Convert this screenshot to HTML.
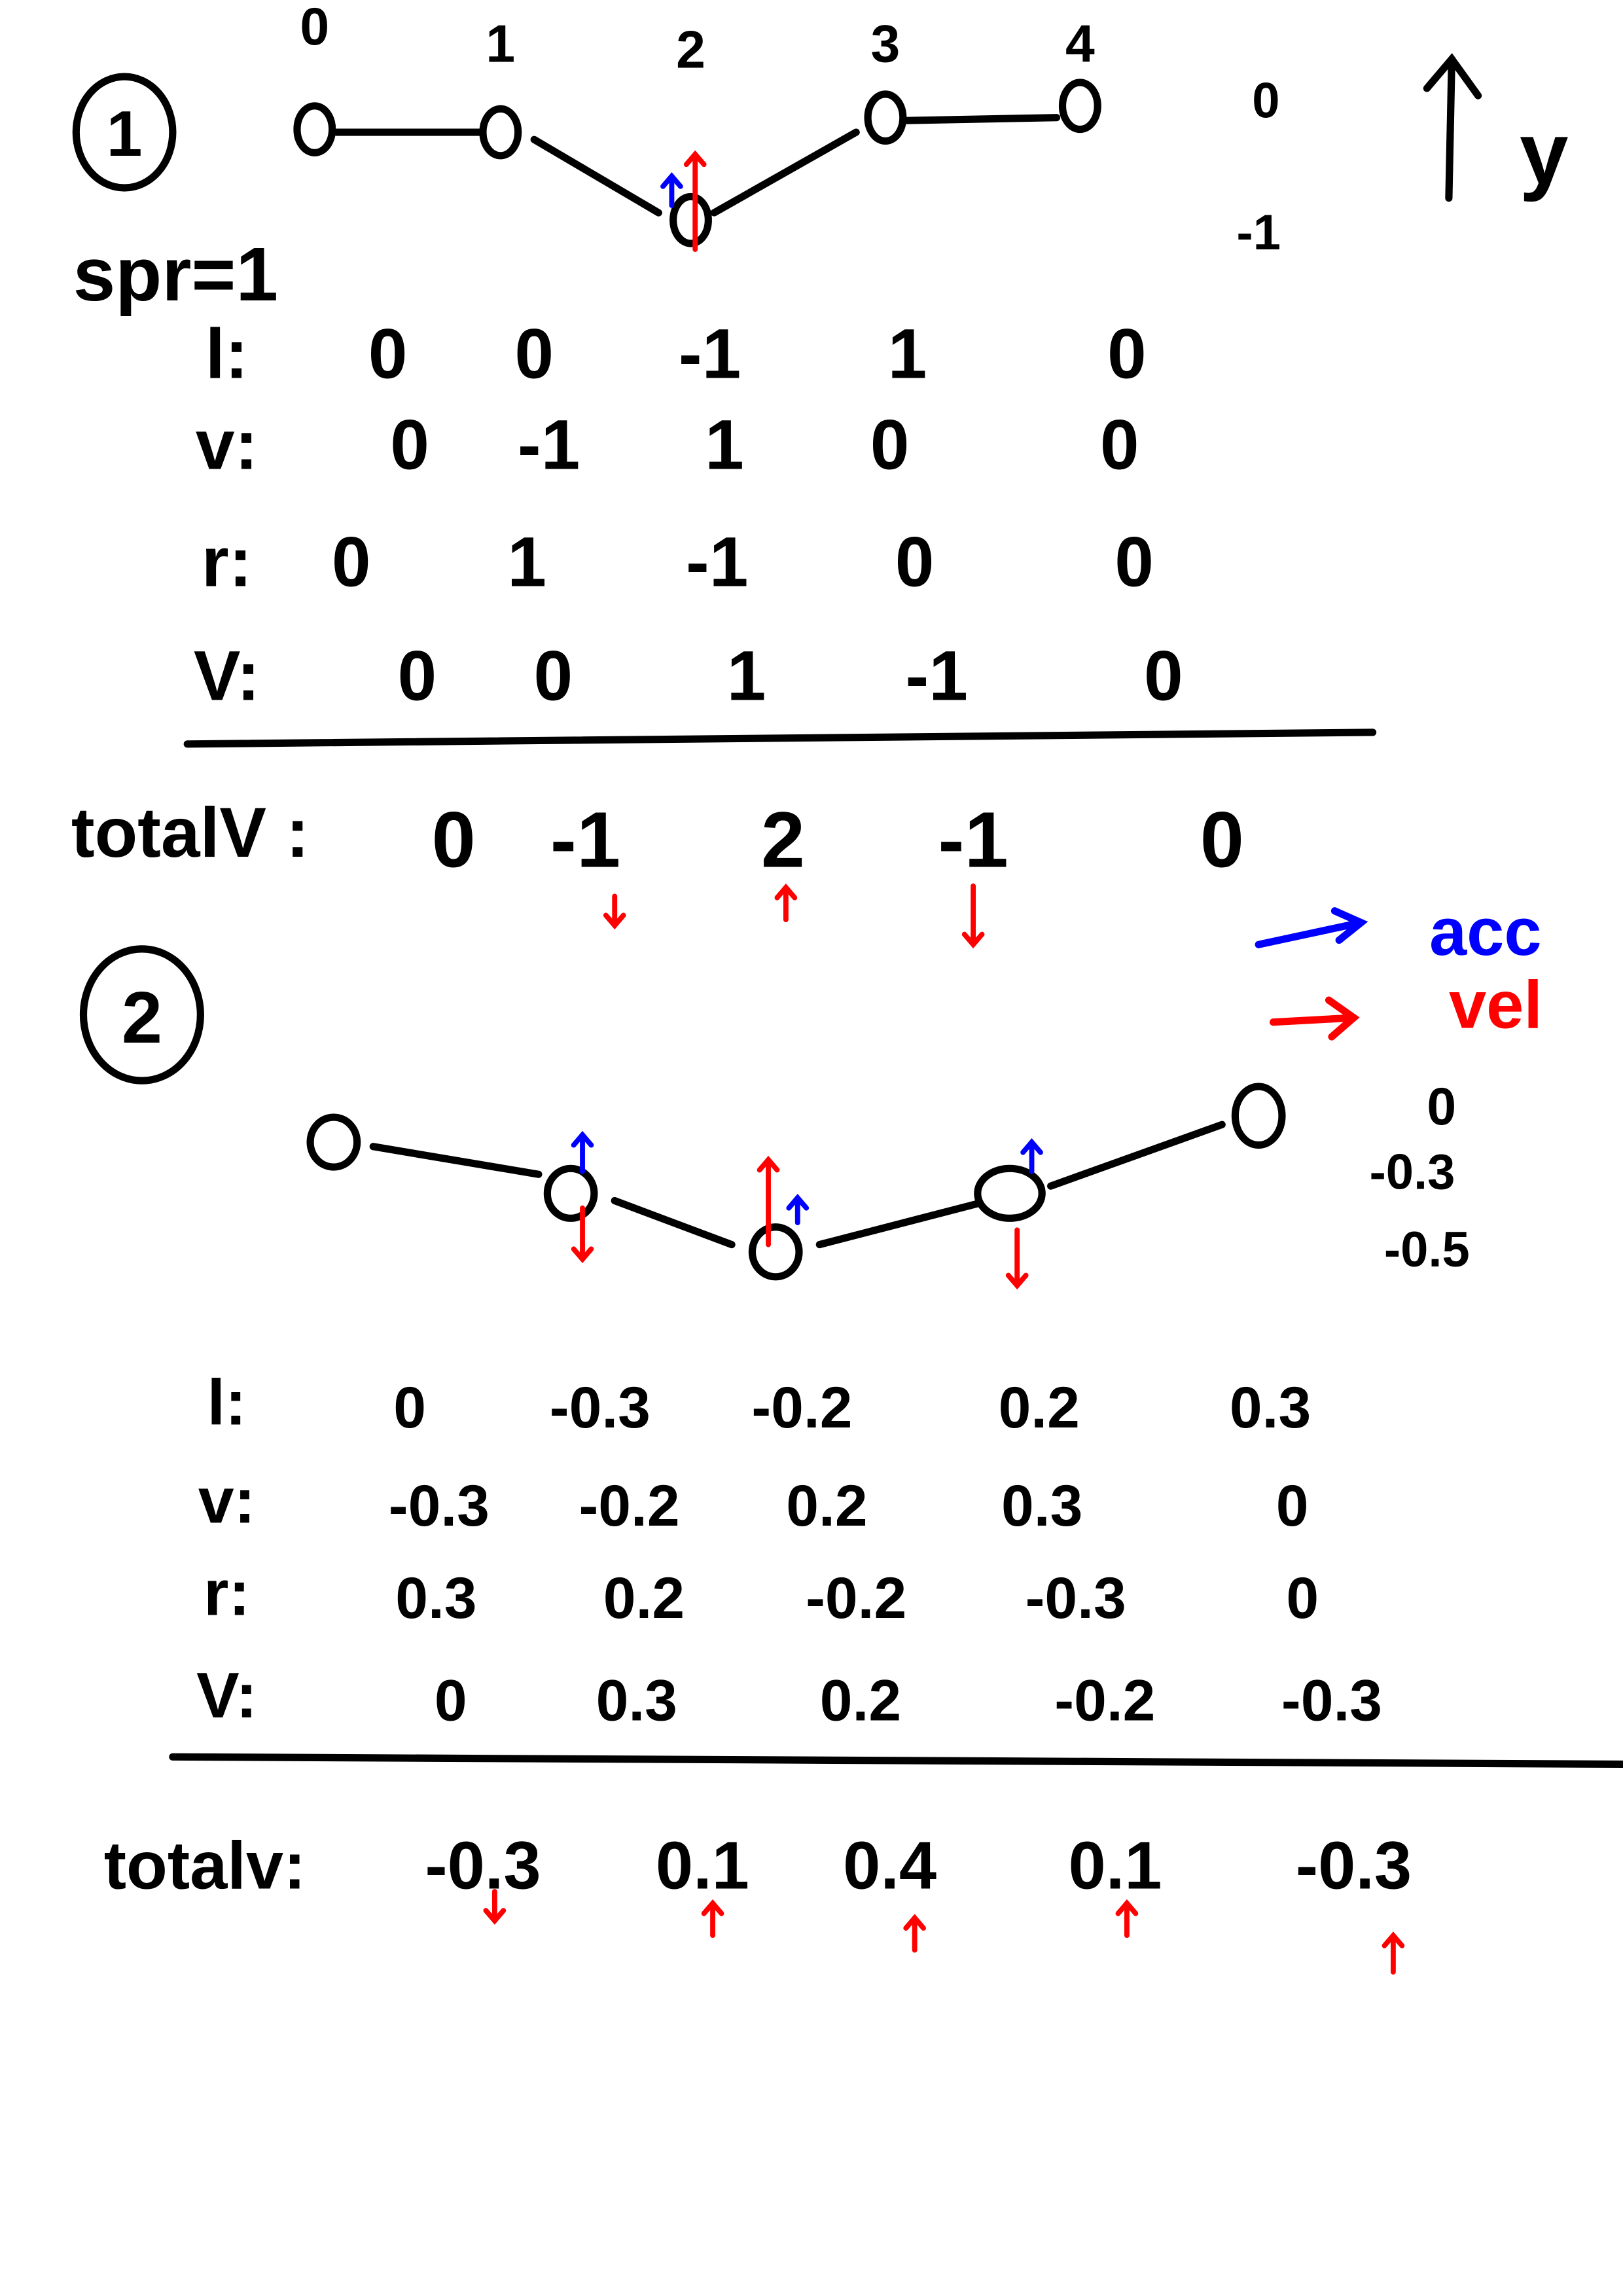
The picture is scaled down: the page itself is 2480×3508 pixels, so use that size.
<!DOCTYPE html>
<html><head><meta charset="utf-8">
<style>
html,body{margin:0;padding:0;background:#fff;}
svg{display:block;}
text{font-family:"Liberation Sans",sans-serif;fill:#000;font-weight:bold;}
</style></head>
<body>
<svg id="s" width="2480" height="3508" viewBox="0 0 1109 1568" xmlns="http://www.w3.org/2000/svg">
<rect width="1109" height="1568" fill="#fff"/>
<g id="g" stroke="#000" stroke-width="5" stroke-linecap="round" fill="none"></g>
</svg>
<script>
const s1Labels=["l:","v:","r:","V:"];
const s1Rows=[["0","0","-1","1","0"],["0","-1","1","0","0"],["0","1","-1","0","0"],["0","0","1","-1","0"]];
const s1Total=["0","-1","2","-1","0"];
const s2Rows=[["0","-0.3","-0.2","0.2","0.3"],["-0.3","-0.2","0.2","0.3","0"],["0.3","0.2","-0.2","-0.3","0"],["0","0.3","0.2","-0.2","-0.3"]];
const s2Total=["-0.3","0.1","0.4","0.1","-0.3"];
const idx=["0","1","2","3","4"];

const NS="http://www.w3.org/2000/svg";
const svg=document.getElementById('s');const g=document.getElementById('g');
function T(x,y,t,size,color,name){const e=document.createElementNS(NS,'text');e.setAttribute('x',x);e.setAttribute('y',y);e.setAttribute('font-size',size);e.setAttribute('text-anchor','middle');if(color)e.setAttribute('style','fill:'+color);e.textContent=t;


svg.appendChild(e);return e;}
function L(pts,color,name,w){const p=document.createElementNS(NS,'polyline');p.setAttribute('points',pts);if(color)p.setAttribute('stroke',color);if(w)p.setAttribute('stroke-width',w);


g.appendChild(p);return p;}
function C(cx,cy,rx,ry,name){const e=document.createElementNS(NS,'ellipse');e.setAttribute('cx',cx);e.setAttribute('cy',cy);e.setAttribute('rx',rx);e.setAttribute('ry',ry);


g.appendChild(e);}
function arrow(x,y1,y2,color,name){L(x+','+y1+' '+x+','+y2,color,name,3.5);const d=y2<y1?7:-7;L((x-6)+','+(y2+d)+' '+x+','+y2+' '+(x+6)+','+(y2+d),color,name+'-head',3.5);}

C(85,90,33,38,'circle-1');T(85,106,'1',44,null,'section-1-number');
const s1x=[215,342,472,605,738],s1ny=[88,90,150,80,72],idxY=[30,42,46,42,42];
idx.forEach((t,i)=>T(s1x[i],idxY[i],t,36,null,'node-index-'+t));
s1x.forEach((x,i)=>C(x,s1ny[i],12,16,'node-'+i));
L('230,90 328,90',null,'spring-0-1');L('365,95 450,145',null,'spring-1-2');L('488,145 585,90',null,'spring-2-3');L('620,82 722,80',null,'spring-3-4');
T(865,80,'0',34,null,'level-0-label');T(860,170,'-1',34,null,'level-neg1-label');
L('990,135 992,40',null,'y-axis');L('975,60 992,40 1010,65',null,'y-axis-head');T(1055,125,'y',60,null,'y-axis-label');
arrow(475,170,105,'#f00','vel-arrow-node2');arrow(459,140,120,'#00f','acc-arrow-node2');
T(120,205,'spr=1',52,null,'spring-constant');
const s1vx=[[265,365,485,620,770],[280,375,495,608,765],[240,360,490,625,775],[285,378,510,640,795]];
const s1y=[258,320,400,478];
s1Rows.forEach((row,r)=>{T(155,s1y[r],s1Labels[r],48,null,'row-label-'+r);row.forEach((v,i)=>T(s1vx[r][i],s1y[r],v,48,null,'s1-value-'+r+'-'+i));});
L('128,508 938,500',null,'sum-line-1');
T(130,585,'totalV :',48,null,'total-v-label-1');
const s1tx=[310,400,535,665,835];
s1Total.forEach((v,i)=>T(s1tx[i],592,v,54,null,'s1-total-'+i));
arrow(420,612,632,'#f00','total-arrow-1');arrow(537,628,606,'#f00','total-arrow-2');arrow(665,605,645,'#f00','total-arrow-3');

L('860,645 930,630','#00f','legend-acc-line');L('912,622 930,630 915,642','#00f','legend-acc-head');T(1015,652,'acc',46,'#00f','legend-acc-label');
L('870,698 925,695','#f00','legend-vel-line');L('908,683 925,695 910,708','#f00','legend-vel-head');T(1022,702,'vel',46,'#f00','legend-vel-label');

C(97,693,40,45,'circle-2');T(97,712,'2',50,null,'section-2-number');
const s2nx=[228,390,530,690,860],s2ny=[780,815,855,815,762];
s2nx.forEach((x,i)=>C(x,s2ny[i],i==3?22:16,i==4?20:17,'s2-node-'+i));
L('255,783 368,802',null,'s2-spring-0');L('420,820 500,850',null,'s2-spring-1');L('560,850 668,822',null,'s2-spring-2');L('718,810 835,768',null,'s2-spring-3');
T(985,768,'0',36,null,'s2-level-0');T(965,812,'-0.3',34,null,'s2-level-03');T(975,865,'-0.5',34,null,'s2-level-05');
arrow(398,800,775,'#00f','s2-acc-1');arrow(398,825,860,'#f00','s2-vel-1');
arrow(525,850,792,'#f00','s2-vel-2');arrow(545,835,818,'#00f','s2-acc-2');
arrow(705,800,780,'#00f','s2-acc-3');arrow(695,840,878,'#f00','s2-vel-3');
const s2vx=[[280,410,548,710,868],[300,430,565,712,883],[298,440,585,735,890],[308,435,588,755,910]];
const s2y=[975,1042,1105,1175];
s2Rows.forEach((row,r)=>{T(155,s2y[r]-2,s1Labels[r],44,null,'s2-row-label-'+r);row.forEach((v,i)=>T(s2vx[r][i],s2y[r],v,40,null,'s2-value-'+r+'-'+i));});
L('118,1200 1109,1205',null,'sum-line-2');
T(140,1290,'totalv:',46,null,'total-v-label-2');
const s2tx=[330,480,608,762,925];
s2Total.forEach((v,i)=>T(s2tx[i],1290,v,46,null,'s2-total-'+i));
arrow(338,1292,1312,'#f00','s2-total-arrow-0');arrow(487,1322,1300,'#f00','s2-total-arrow-1');arrow(625,1332,1310,'#f00','s2-total-arrow-2');arrow(770,1322,1300,'#f00','s2-total-arrow-3');arrow(952,1347,1322,'#f00','s2-total-arrow-4');
</script>
</body></html>
